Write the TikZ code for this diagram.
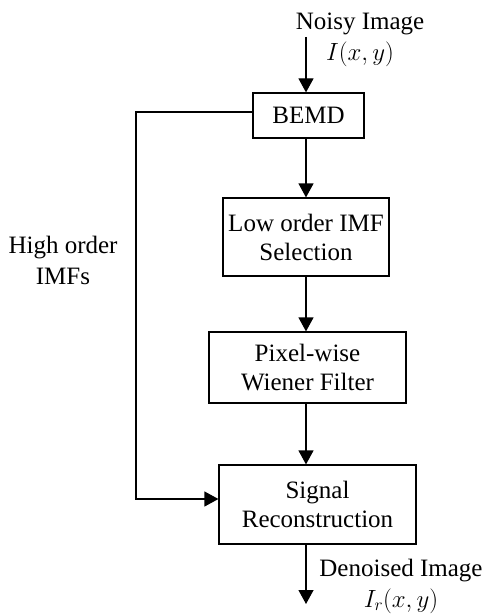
\documentclass[tikz,border=0pt]{standalone}
\usepackage{fontspec}
\setmainfont{Liberation Serif}
\usetikzlibrary{arrows.meta,positioning,calc}
\tikzset{
  blk/.style={draw,line width=1.2pt,align=center,inner sep=2pt,
              font=\fontsize{25}{29}\selectfont},
  ar/.style={-{Triangle[length=14pt,width=15pt]},line width=1.2pt},
  lab/.style={align=center,inner sep=0pt,font=\fontsize{25}{31}\selectfont},
}

\begin{document}
\begin{tikzpicture}[x=1pt,y=-1pt]
  \useasboundingbox (0,0) rectangle (485,615);
  % main chain
  \node[blk,minimum width=111pt,minimum height=45pt] (bemd) at (308.5,115.5) {BEMD};
  \node[blk,minimum width=166pt,minimum height=78pt] (low) at (306,237) {Low order IMF\\Selection};
  \node[blk,minimum width=197pt,minimum height=71pt] (wien) at (307.5,367.5) {Pixel-wise\\Wiener Filter};
  \node[blk,minimum width=197pt,minimum height=79pt] (rec) at (317.5,504.5) {Signal\\Reconstruction};
  % in / out
  \coordinate (in) at (306,37);
  \coordinate (out) at (306,604);
  \node[lab] (noisy) at (360,40) {Noisy Image\\$I(x,y)$};
  \node[lab] (clean) at (401,586) {Denoised Image\\$I_r(x,y)$};
  \draw[ar](in)--(bemd.north -| in);
  \draw[ar](bemd.south -| in)--(low.north -| in);
  \draw[ar](low.south -| in)--(wien.north -| in);
  \draw[ar](wien.south -| in)--(rec.north -| in);
  \draw[ar](rec.south -| in)--(out);
  % bypass
  \coordinate (hitop) at (136,112);
  \coordinate (hibot) at (136,499);
  \node[lab] (high) at (63,260) {High order\\IMFs};
  \draw[ar](hitop -| bemd.west)--(hitop)--(hibot)--(hibot -| rec.west);
\end{tikzpicture}
\end{document}
